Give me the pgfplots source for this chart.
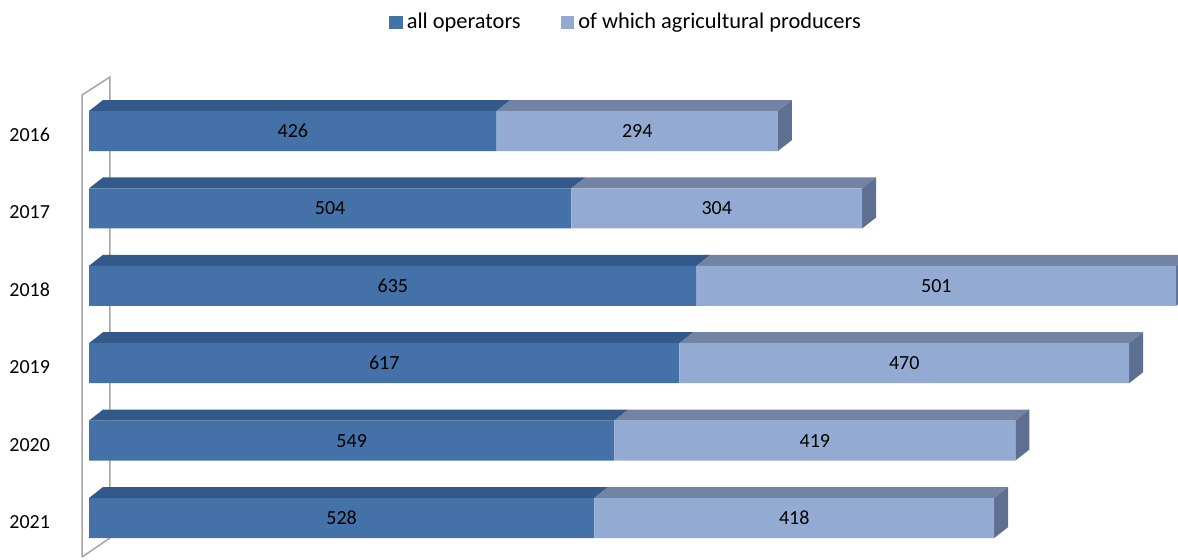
\documentclass[border=0pt]{standalone}
\usepackage{pgfplots}
\pgfplotsset{compat=1.18}
\usepackage{pgfplotstable}
\usepackage{fontspec}
\setmainfont{Carlito}
\definecolor{darkfront}{HTML}{4472A8}
\definecolor{darktop}{HTML}{33598A}
\definecolor{lightfront}{HTML}{93ABD3}
\definecolor{lighttop}{HTML}{7383A3}
\definecolor{lightside}{HTML}{5F6F92}
\definecolor{wallgray}{HTML}{A6A6A6}

\pgfplotstableread{
idx year a b
0 2016 426 294
1 2017 504 304
2 2018 635 501
3 2019 617 470
4 2020 549 419
5 2021 528 418
}\datatable

\begin{document}
\begin{tikzpicture}[font=\fontsize{10pt}{12pt}\selectfont]
\path[use as bounding box] (0pt,0pt) rectangle (589pt,279.5pt);
\begin{axis}[
  at={(44.5pt,1.15pt)}, anchor=south west,
  scale only axis, width=544pt, height=232.2pt,
  xmin=0, xmax=1137, ymin=-0.5, ymax=5.5,
  y dir=reverse, clip=false,
  axis line style={draw=none},
  major tick length=0pt,
  xtick=\empty,
  ytick={0,1,2,3,4,5},
  yticklabels={2016,2017,2018,2019,2020,2021},
  yticklabel style={xshift=-16pt, yshift=-2pt},
  bar width=0.517,
  legend style={at={(0.5,1)}, anchor=center, xshift=-3pt, yshift=35pt,
    draw=none, fill=none, legend columns=-1, font=\fontsize{11.2pt}{13pt}\selectfont,
    /tikz/every even column/.append style={column sep=18pt}},
]
% wall outline
\addplot[draw=wallgray, line width=0.75pt, forget plot, mark=none]
  coordinates {(-7.3,5.504) (-7.3,-0.465) (21.9,-0.698) (21.9,5.258) (-7.3,5.504)};

\pgfplotsinvokeforeach{0,...,5}{
  \pgfplotstablegetelem{#1}{a}\of\datatable \pgfmathsetmacro\va{\pgfplotsretval}
  \pgfplotstablegetelem{#1}{b}\of\datatable \pgfmathsetmacro\vb{\pgfplotsretval}
  \pgfmathsetmacro\vs{\va+\vb}
  \pgfmathsetmacro\yf{#1-0.2585}
  \pgfmathsetmacro\yb{#1-0.4005}
  \pgfmathsetmacro\yfb{#1+0.2585}
  \pgfmathsetmacro\ybb{#1+0.1165}
  \pgfmathsetmacro\xa{\va+14.6}
  \pgfmathsetmacro\xs{\vs+14.6}
  \addplot[fill=darktop, draw=none, forget plot, mark=none]
    coordinates {(0,\yf) (\va,\yf) (\xa,\yb) (14.6,\yb)};
  \addplot[fill=lighttop, draw=none, forget plot, mark=none]
    coordinates {(\va,\yf) (\vs,\yf) (\xs,\yb) (\xa,\yb)};
  \addplot[fill=lightside, draw=none, forget plot, mark=none]
    coordinates {(\vs,\yf) (\xs,\yb) (\xs,\ybb) (\vs,\yfb)};
}

\addplot[xbar stacked, fill=darkfront, draw=none,
  legend image code/.code={\fill[darkfront] (0pt,-3.4pt) rectangle (6.8pt,3.4pt);},
  point meta=\thisrow{a},
  nodes near coords={\pgfmathprintnumber[assume math mode=true]{\pgfplotspointmeta}},
  every node near coord/.append style={anchor=center, black}]
  table[x=a, y=idx] {\datatable};
\addplot[xbar stacked, fill=lightfront, draw=none,
  legend image code/.code={\fill[lightfront] (0pt,-3.4pt) rectangle (6.8pt,3.4pt);},
  point meta=\thisrow{b},
  nodes near coords={\pgfmathprintnumber[assume math mode=true]{\pgfplotspointmeta}},
  every node near coord/.append style={anchor=center, black}]
  table[x=b, y=idx] {\datatable};
\legend{all operators, of which agricultural producers}
\end{axis}
\end{tikzpicture}
\end{document}
